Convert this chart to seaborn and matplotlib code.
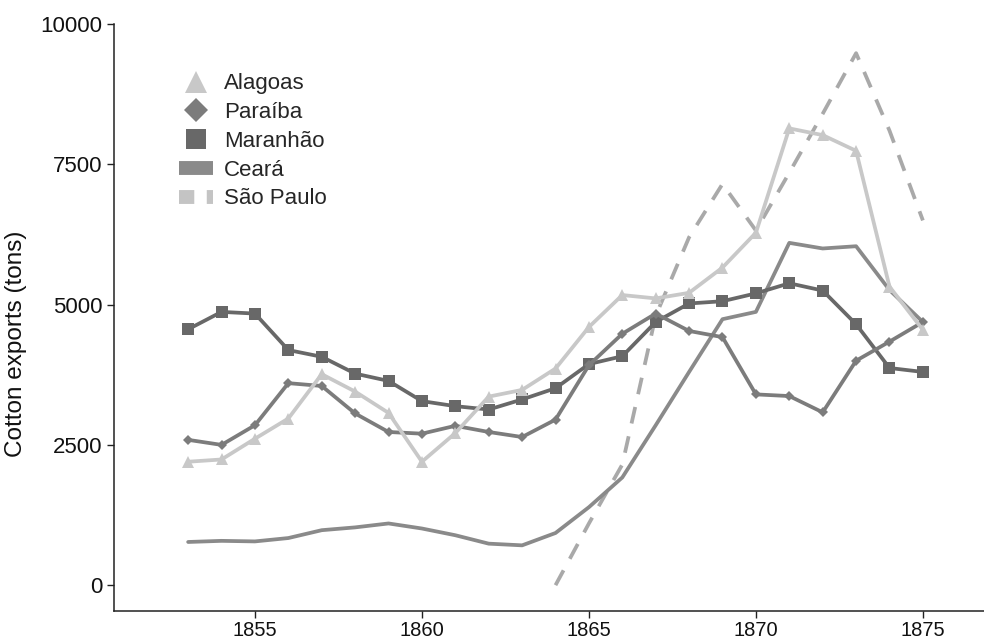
import numpy as np
import pandas as pd
import matplotlib
matplotlib.use("Agg")
import matplotlib.pyplot as plt
from matplotlib.lines import Line2D
import seaborn as sns

# --- data ---
years = list(range(1853, 1876))
alagoas = [2200, 2240, 2610, 2970, 3760, 3450, 3070, 2200, 2710, 3360, 3480, 3860,
           4600, 5170, 5110, 5210, 5660, 6280, 8140, 8020, 7740, 5320, 4550]
paraiba = [2590, 2500, 2850, 3600, 3550, 3060, 2730, 2700, 2840, 2730, 2640, 2950,
           3920, 4480, 4840, 4530, 4420, 3400, 3370, 3080, 4000, 4340, 4690]
maranhao = [4560, 4870, 4840, 4190, 4070, 3770, 3640, 3280, 3190, 3130, 3310, 3510,
            3940, 4080, 4690, 5020, 5060, 5200, 5380, 5250, 4650, 3870, 3800]
ceara = [770, 790, 780, 840, 980, 1030, 1100, 1010, 890, 740, 710, 930,
         1390, 1920, 2850, 3800, 4740, 4870, 6100, 6000, 6040, 5260, 4690]
sp_years = list(range(1864, 1876))
sao_paulo = [0, 1100, 2150, 4800, 6200, 7150, 6320, 7350, 8400, 9480, 8100, 6500]

sns.set_theme(style="ticks")
plt.rcParams['font.family'] = ['Liberation Sans', 'DejaVu Sans']

fig = plt.figure(figsize=(9.84, 6.41), dpi=100)
ax = fig.add_axes([114 / 984, 1 - 611 / 641, 1 - 114 / 984, (611 - 24) / 641])

c_alagoas = '#c8c8c8'
c_paraiba = '#7c7c7c'
c_maranhao = '#686868'
c_ceara = '#8a8a8a'
c_sp = '#a9a9a9'

sns.lineplot(x=sp_years, y=sao_paulo, ax=ax, color=c_sp, linewidth=2.7,
             linestyle=(0, (4.5, 3.5)))
sns.lineplot(x=years, y=ceara, ax=ax, color=c_ceara, linewidth=2.7)
sns.lineplot(x=years, y=maranhao, ax=ax, color=c_maranhao, linewidth=2.7,
             marker='s', markersize=8, markeredgewidth=0)
sns.lineplot(x=years, y=paraiba, ax=ax, color=c_paraiba, linewidth=2.7,
             marker='D', markersize=5, markeredgewidth=0)
sns.lineplot(x=years, y=alagoas, ax=ax, color=c_alagoas, linewidth=2.7,
             marker='^', markersize=9, markeredgewidth=0)

ax.set_xlim(1850.78, 1876.83)
ax.set_ylim(-460, 10000)
ax.set_xticks([1855, 1860, 1865, 1870, 1875])
ax.set_yticks([0, 2500, 5000, 7500, 10000])
ax.set_xlabel('')
ax.set_ylabel('Cotton exports (tons)', fontsize=17.5, color='#111111')
ax.yaxis.set_label_coords(-0.1, 0.455)
ax.tick_params(axis='both', length=5, width=1, colors='#222222', labelcolor='#111111')
ax.tick_params(axis='y', labelsize=16)
ax.tick_params(axis='x', labelsize=14.5, pad=2)
for s in ['left', 'bottom']:
    ax.spines[s].set_color('#222222')
    ax.spines[s].set_linewidth(1.1)
sns.despine(ax=ax)

handles = [
    Line2D([], [], color=c_alagoas, marker='^', markersize=16, linestyle='none', markeredgewidth=0),
    Line2D([], [], color=c_paraiba, marker='D', markersize=12, linestyle='none', markeredgewidth=0),
    Line2D([], [], color=c_maranhao, marker='s', markersize=14, linestyle='none', markeredgewidth=0),
    Line2D([], [], color=c_ceara, linewidth=10, solid_capstyle='butt'),
    Line2D([], [], color='#c4c4c4', linewidth=10, linestyle=(0, (1.1, 0.9)), dash_capstyle='butt'),
]
labels = ['Alagoas', 'Paraíba', 'Maranhão', 'Ceará', 'São Paulo']
ax.legend(handles, labels, loc='upper left', bbox_to_anchor=(0.052, 0.95), frameon=False,
          fontsize=16, handlelength=1.5, labelspacing=0.35, handletextpad=0.5)

fig.savefig('out.png', dpi=100)
